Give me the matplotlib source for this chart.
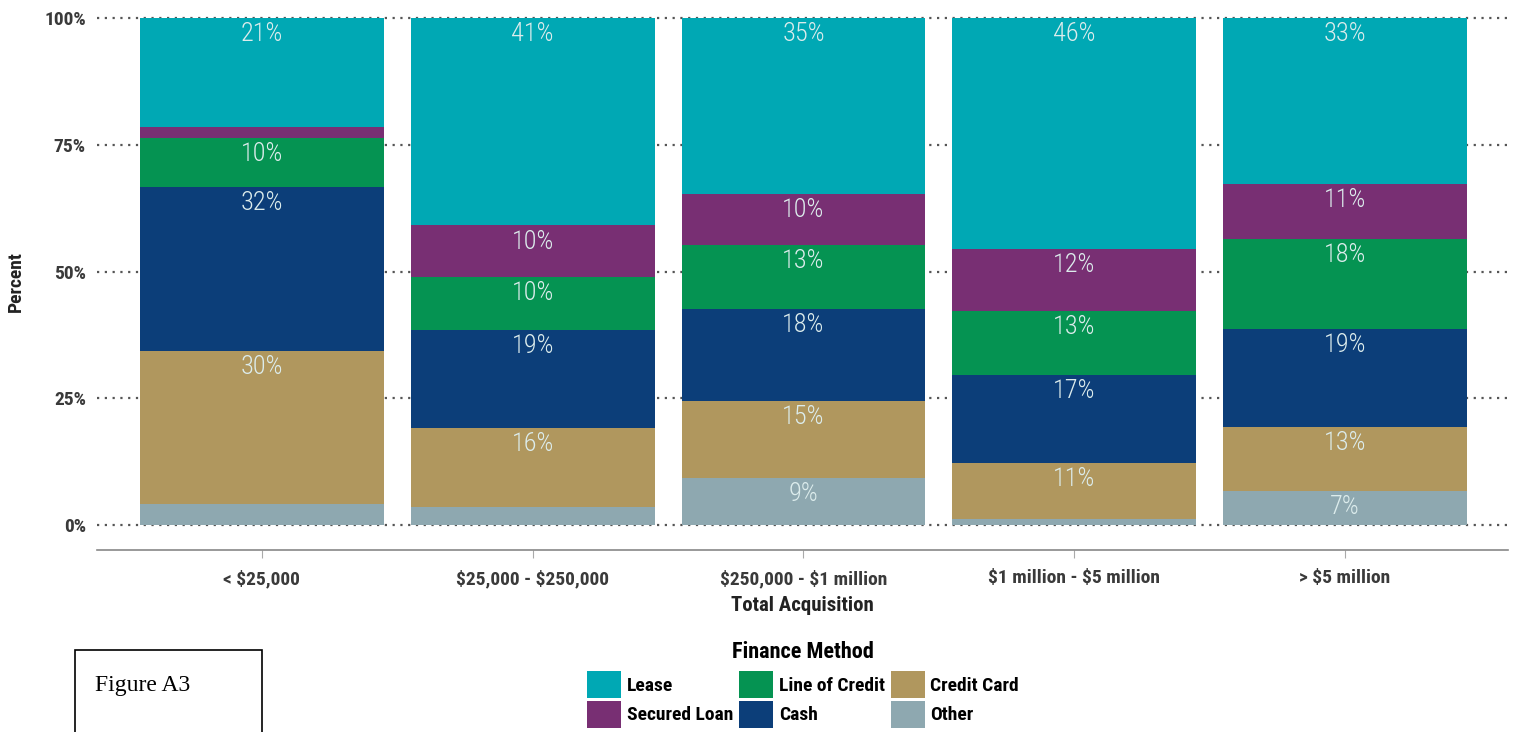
"""Stacked 100% bar chart: finance method by total acquisition."""
import matplotlib.pyplot as plt
import matplotlib.patches as patches
from matplotlib import font_manager
import numpy as np

categories = ['< \\$25,000', '\\$25,000 - \\$250,000', '\\$250,000 - \\$1 million',
              '\\$1 million - \\$5 million', '> \\$5 million']

# stacked bottom -> top
other = [4.1, 3.6, 9.3, 1.2, 6.7]
credit_card = [30.2, 15.6, 15.2, 11.0, 12.6]
cash = [32.4, 19.3, 18.1, 17.4, 19.4]
line_of_credit = [9.7, 10.4, 12.6, 12.6, 17.8]
secured_loan = [2.2, 10.2, 10.1, 12.2, 10.8]
lease = [21.4, 40.9, 34.7, 45.6, 32.7]

series = [('Other', other, '#8EA8B0'),
          ('Credit Card', credit_card, '#B0975E'),
          ('Cash', cash, '#0C3E79'),
          ('Line of Credit', line_of_credit, '#059352'),
          ('Secured Loan', secured_loan, '#782F73'),
          ('Lease', lease, '#00A8B4')]

# pick a narrow font if one is installed
names = sorted({f.name for f in font_manager.fontManager.ttflist})
narrow = [n for n in ['Liberation Sans Narrow', 'DejaVu Sans Condensed',
                      'Roboto Condensed', 'Open Sans Condensed',
                      'Noto Sans Condensed'] if n in names]
narrow += [n for n in names if ('Condensed' in n or 'Narrow' in n)
           and n not in narrow and 'Serif' not in n and 'Mono' not in n]
NARROW = narrow[:1] + ['DejaVu Sans']
STRETCH = 'normal' if narrow else 'condensed'

fig = plt.figure(figsize=(15.16, 7.32), dpi=100)
ax = fig.add_axes([97/1516, 1 - 550/732, (1508-97)/1516, (550-13)/732])

x = np.arange(len(categories))
bottom = np.zeros(len(categories))
handles = {}
for name, vals, color in series:
    vals = np.array(vals)
    bars = ax.bar(x, vals, bottom=bottom, width=0.9, color=color,
                  edgecolor='none', zorder=2)
    handles[name] = bars
    for xi, b, v in zip(x, bottom, vals):
        if v >= 5:
            ax.annotate(f'{v:.0f}%', (xi, b + v), xytext=(0, -3),
                        textcoords='offset points', ha='center', va='top',
                        fontsize=19, fontweight='light', color='#dcecec',
                        family=NARROW, stretch=STRETCH, zorder=3)
    bottom += vals

ax.set_xlim(-0.609, 4.602)
ax.set_ylim(-4.93, 101)
ax.set_yticks([0, 25, 50, 75, 100])
ax.set_yticklabels(['0%', '25%', '50%', '75%', '100%'])
for yv in [0, 25, 50, 75, 100]:
    ax.axhline(yv, color='#555555', lw=1.6, linestyle=(0, (1, 2.5)),
               zorder=1)

for s in ['top', 'right', 'left']:
    ax.spines[s].set_visible(False)
ax.spines['bottom'].set_color('#888888')
ax.spines['bottom'].set_linewidth(1.2)

ax.tick_params(axis='y', length=0, pad=8)
ax.tick_params(axis='x', length=6, color='#aaaaaa', pad=8)
ax.set_xticks(x)
ax.set_xticklabels(categories)
for lab in ax.get_xticklabels() + ax.get_yticklabels():
    lab.set_fontsize(14)
    lab.set_fontweight('bold')
    lab.set_color('#3a3a3a')
    lab.set_family(NARROW)
    lab.set_stretch(STRETCH)

ax.set_xlabel('Total Acquisition', fontsize=15, fontweight='bold',
              family=NARROW, stretch=STRETCH, color='#222222', labelpad=6)
ax.set_ylabel('Percent', fontsize=14, fontweight='bold', family=NARROW,
              stretch=STRETCH, color='#222222', labelpad=14)

# legend: rows Lease/Line of Credit/Credit Card, Secured Loan/Cash/Other
order = ['Lease', 'Secured Loan', 'Line of Credit', 'Cash',
         'Credit Card', 'Other']
leg = fig.legend([handles[n] for n in order], order, ncol=3,
                 loc='upper center', bbox_to_anchor=(803/1516, 1 - 627/732),
                 frameon=False, title='Finance Method',
                 prop={'family': NARROW, 'weight': 'bold', 'size': 14,
                       'stretch': STRETCH},
                 handlelength=1.75, handleheight=1.75, handletextpad=0.3,
                 columnspacing=0.3, labelspacing=0.15, borderpad=0.2)
leg.get_title().set_fontweight('bold')
leg.get_title().set_fontsize(16)
leg.get_title().set_family(NARROW)
leg.get_title().set_stretch(STRETCH)
leg._legend_box.sep = 6

# Figure A3 box
box = patches.Rectangle((75/1516, -0.05), (262-75)/1516, 0.05 + (732-650)/732,
                        transform=fig.transFigure, facecolor='white',
                        edgecolor='black', linewidth=1.2)
fig.patches.append(box)
fig.text(95/1516, 1 - 686/732, 'Figure A3', fontsize=17,
         family=['Liberation Serif', 'DejaVu Serif'], va='center',
         ha='left', color='black')

fig.savefig('out.png', dpi=100)
